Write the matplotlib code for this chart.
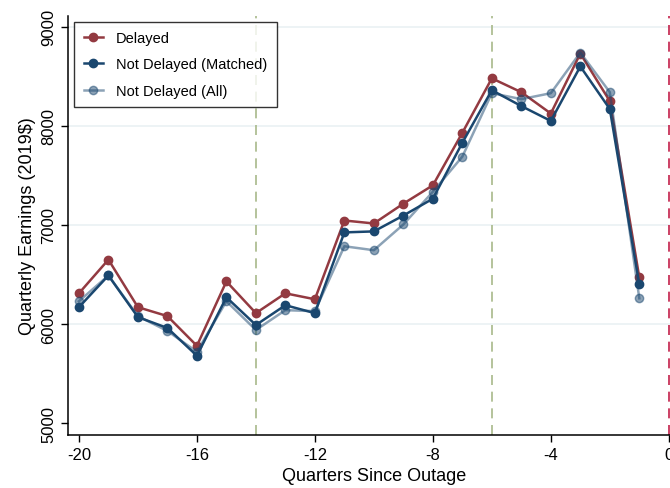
import matplotlib
matplotlib.use("Agg")
import matplotlib.pyplot as plt

plt.rcParams['font.family'] = ['Liberation Sans', 'DejaVu Sans']
plt.rcParams['axes.unicode_minus'] = False

quarters = list(range(-20, 0))
delayed = [6310, 6650, 6170, 6080, 5780, 6430, 6110, 6310, 6250, 7045,
           7015, 7215, 7400, 7930, 8480, 8340, 8125, 8730, 8250, 6470]
matched = [6170, 6490, 6070, 5960, 5680, 6270, 5990, 6190, 6110, 6925,
           6935, 7095, 7265, 7830, 8360, 8200, 8050, 8600, 8170, 6400]
all_nd = [6230, 6490, 6080, 5930, 5720, 6230, 5940, 6140, 6130, 6785,
          6745, 7005, 7335, 7690, 8330, 8270, 8330, 8740, 8340, 6260]
event_lines = [-14, -6]
outage = 0
y_ticks = [5000, 6000, 7000, 8000, 9000]
x_ticks = [-20, -16, -12, -8, -4, 0]

fig = plt.figure(figsize=(6.7, 4.89), dpi=100)
ax = fig.add_axes([0.1015, 0.1084, 0.913, 0.857])

for v in y_ticks[1:]:
    ax.axhline(v, color='#eaf1f3', lw=1.2, zorder=0)
for v in event_lines:
    ax.axvline(v, color='#a8b98a', lw=1.2, ls=(0, (6, 4)), zorder=1)
ax.axvline(outage, color='#c4204a', lw=1.2, ls=(0, (6, 4)), zorder=1)

ax.plot(quarters, delayed, color='#933a41', lw=1.8, marker='o', ms=6,
        label='Delayed', zorder=3)
ax.plot(quarters, matched, color='#1a476f', lw=1.8, marker='o', ms=6,
        label='Not Delayed (Matched)', zorder=4)
ax.plot(quarters, all_nd, color='#1a476f', alpha=0.5, lw=1.8, marker='o', ms=6,
        label='Not Delayed (All)', zorder=5)

ax.set_xlim(-20.37, 0.37)
ax.set_ylim(4880, 9110)
ax.set_xticks(x_ticks)
ax.set_yticks(y_ticks)
ax.set_yticklabels([str(v) for v in y_ticks], rotation=90, va='center')
ax.tick_params(axis='both', labelsize=12, length=5, width=1, direction='out')
for s in ['top', 'right']:
    ax.spines[s].set_visible(False)
ax.spines['left'].set_linewidth(1.1)
ax.spines['bottom'].set_linewidth(1.1)

ax.set_xlabel('Quarters Since Outage', fontsize=13)
ax.set_ylabel('Quarterly Earnings (2019$)', fontsize=13)

leg = ax.legend(loc='upper left', bbox_to_anchor=(0.003, 0.997), fontsize=10.5,
                frameon=True, fancybox=False, edgecolor='black',
                handlelength=1.3, handletextpad=0.9, borderpad=0.65,
                labelspacing=0.85, borderaxespad=0.3)
leg.get_frame().set_linewidth(1.0)

fig.savefig('out.png', dpi=100)
